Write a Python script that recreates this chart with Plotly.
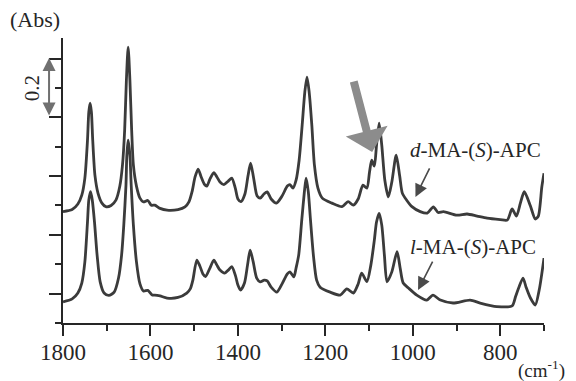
import plotly.graph_objects as go

# ---- data (wavenumber in cm-1, absorbance) ----
wn_d = [1800, 1779, 1766, 1757, 1750, 1744, 1741, 1738, 1735, 1732,
        1727, 1720, 1711, 1702, 1690, 1679, 1670, 1664, 1659, 1655,
        1651, 1647, 1643, 1639, 1632, 1624, 1616, 1606, 1598, 1590,
        1578, 1562, 1537, 1521, 1512, 1505, 1498, 1491, 1484, 1477,
        1471, 1464, 1455, 1448, 1441, 1432, 1422, 1414, 1406, 1400,
        1393, 1384, 1377, 1371, 1364, 1356, 1349, 1340, 1333, 1324,
        1312, 1299, 1287, 1281, 1274, 1267, 1260, 1253, 1247, 1242,
        1237, 1231, 1225, 1217, 1207, 1185, 1162, 1148, 1136, 1125,
        1114, 1105, 1099, 1094, 1088, 1083, 1077, 1071, 1064, 1056,
        1048, 1038, 1030, 1024, 1014, 1002, 983, 967, 953, 942,
        930, 899, 876, 853, 830, 800, 784, 773, 763, 754,
        745, 731, 720, 713, 705, 700]
abs_d = [0.379, 0.386, 0.405, 0.435, 0.493, 0.622, 0.718, 0.748, 0.718, 0.622,
         0.503, 0.442, 0.408, 0.396, 0.400, 0.418, 0.466, 0.537, 0.657, 0.827,
         0.939, 0.827, 0.657, 0.537, 0.466, 0.425, 0.412, 0.417, 0.401, 0.401,
         0.390, 0.384, 0.386, 0.395, 0.412, 0.446, 0.497, 0.524, 0.497, 0.473,
         0.466, 0.490, 0.512, 0.497, 0.480, 0.471, 0.483, 0.493, 0.459, 0.422,
         0.413, 0.439, 0.500, 0.544, 0.493, 0.432, 0.425, 0.440, 0.446, 0.422,
         0.408, 0.432, 0.466, 0.471, 0.459, 0.486, 0.554, 0.674, 0.786, 0.837,
         0.786, 0.674, 0.537, 0.459, 0.425, 0.408, 0.396, 0.413, 0.401, 0.422,
         0.469, 0.459, 0.514, 0.554, 0.534, 0.605, 0.680, 0.605, 0.486, 0.429,
         0.480, 0.571, 0.500, 0.442, 0.418, 0.396, 0.379, 0.374, 0.395, 0.376,
         0.379, 0.367, 0.371, 0.364, 0.357, 0.352, 0.350, 0.388, 0.364, 0.408,
         0.447, 0.398, 0.354, 0.364, 0.463, 0.510]

wn_l = [1800, 1779, 1766, 1757, 1750, 1744, 1741, 1737, 1733, 1728,
        1722, 1715, 1706, 1695, 1683, 1673, 1666, 1661, 1656, 1654,
        1651, 1647, 1644, 1639, 1632, 1624, 1616, 1606, 1596, 1590,
        1578, 1562, 1537, 1517, 1509, 1503, 1494, 1487, 1480, 1474,
        1464, 1455, 1448, 1441, 1430, 1422, 1414, 1406, 1400, 1394,
        1385, 1378, 1372, 1365, 1357, 1349, 1340, 1333, 1324, 1311,
        1299, 1287, 1281, 1272, 1267, 1261, 1254, 1248, 1244, 1239,
        1234, 1227, 1220, 1212, 1189, 1166, 1151, 1136, 1125, 1117,
        1105, 1096, 1088, 1083, 1077, 1071, 1065, 1059, 1048, 1036,
        1029, 1022, 1010, 991, 968, 954, 937, 908, 869, 846,
        808, 773, 765, 758, 748, 741, 731, 720, 711, 700]
abs_l = [0.072, 0.082, 0.102, 0.136, 0.208, 0.344, 0.418, 0.447, 0.418, 0.344,
         0.231, 0.140, 0.102, 0.094, 0.105, 0.153, 0.231, 0.333, 0.469, 0.571,
         0.622, 0.571, 0.469, 0.333, 0.208, 0.133, 0.109, 0.111, 0.095, 0.095,
         0.092, 0.085, 0.087, 0.102, 0.116, 0.146, 0.214, 0.194, 0.167, 0.158,
         0.187, 0.214, 0.197, 0.180, 0.170, 0.180, 0.192, 0.163, 0.129, 0.112,
         0.136, 0.197, 0.248, 0.208, 0.153, 0.140, 0.146, 0.143, 0.122, 0.105,
         0.133, 0.167, 0.174, 0.157, 0.187, 0.231, 0.350, 0.446, 0.493, 0.446,
         0.350, 0.225, 0.146, 0.122, 0.105, 0.095, 0.116, 0.102, 0.133, 0.170,
         0.141, 0.197, 0.282, 0.344, 0.373, 0.333, 0.231, 0.140, 0.174, 0.243,
         0.187, 0.136, 0.119, 0.095, 0.078, 0.095, 0.078, 0.068, 0.078, 0.068,
         0.056, 0.058, 0.090, 0.119, 0.153, 0.122, 0.085, 0.061, 0.112, 0.221]

x_ticks = [1800, 1600, 1400, 1200, 1000, 800]
label_d = "<i>d</i>-MA-(<i>S</i>)-APC"
label_l = "<i>l</i>-MA-(<i>S</i>)-APC"

SERIF = "Liberation Serif, Times New Roman, serif"
LINE = "#3b3b3b"
INK = "#262626"

fig = go.Figure()
for xs, ys in ((wn_d, abs_d), (wn_l, abs_l)):
    fig.add_trace(go.Scatter(
        x=xs, y=ys, mode="lines",
        line=dict(color=LINE, width=2.8, shape="spline", smoothing=0.7),
        showlegend=False, hoverinfo="skip"))

# the page body adds an 8px offset, so margins are shifted up/left by 8px
fig.update_layout(
    width=576, height=381,
    margin=dict(l=55, r=40, t=30, b=66),
    paper_bgcolor="white", plot_bgcolor="white",
    font=dict(family=SERIF, color=INK, size=20),
    xaxis=dict(
        range=[1800, 700], showgrid=False, zeroline=False,
        showline=True, linecolor=INK, linewidth=2,
        tickvals=x_ticks, ticktext=[str(v) for v in x_ticks],
        ticks="outside", ticklen=11, tickwidth=2, tickcolor=INK,
        ticklabelstandoff=-4,
        minor=dict(dtick=100, tick0=0, ticks="outside", ticklen=6,
                   tickwidth=2, tickcolor=INK),
        tickfont=dict(family=SERIF, size=23, color=INK),
    ),
    yaxis=dict(
        range=[0, 0.97], showgrid=False, zeroline=False,
        showline=True, linecolor=INK, linewidth=2,
        tick0=0.1, dtick=0.2, ticks="outside", ticklen=12, tickwidth=2,
        tickcolor=INK, showticklabels=False,
        minor=dict(dtick=0.1, tick0=0, ticks="outside", ticklen=6,
                   tickwidth=2, tickcolor=INK),
    ),
)

ann = []
# axis unit labels
ann.append(dict(text="(Abs)", xref="paper", yref="paper", x=-0.058, y=1.064,
                showarrow=False, xanchor="center", yanchor="middle",
                font=dict(size=22)))
ann.append(dict(text="(cm<sup>-1</sup>)", xref="paper", yref="paper", x=0.995, y=-0.163,
                showarrow=False, xanchor="center", yanchor="middle",
                font=dict(size=19)))
# scale bar 0.2
ann.append(dict(text="0.2", xref="paper", yref="paper", x=-0.063, y=0.823,
                showarrow=False, textangle=-90, xanchor="center", yanchor="middle",
                font=dict(size=21)))
ann.append(dict(text="", xref="paper", yref="paper", x=-0.029, y=0.93,
                ax=0, ay=59, axref="pixel", ayref="pixel",
                showarrow=True, arrowside="end+start", arrowhead=2,
                arrowsize=1.3, arrowwidth=2, arrowcolor="#707070"))
# curve labels
ann.append(dict(text=label_d, x=857, y=0.588, showarrow=False,
                xanchor="center", yanchor="middle", font=dict(size=21)))
ann.append(dict(text=label_l, x=862, y=0.259, showarrow=False,
                xanchor="center", yanchor="middle", font=dict(size=21)))
# small pointer arrows
ann.append(dict(text="", x=994, y=0.429, ax=960, ay=0.531, axref="x", ayref="y",
                showarrow=True, arrowhead=2, arrowsize=1.6, arrowwidth=1.6,
                arrowcolor="#4a4a4a"))
ann.append(dict(text="", x=988, y=0.112, ax=953, ay=0.214, axref="x", ayref="y",
                showarrow=True, arrowhead=2, arrowsize=1.6, arrowwidth=1.6,
                arrowcolor="#4a4a4a"))
# big grey arrow at the shoulder
ann.append(dict(text="", x=1093, y=0.582, ax=1136, ay=0.827, axref="x", ayref="y",
                showarrow=True, arrowhead=1, arrowsize=0.9, arrowwidth=8,
                arrowcolor="#8c8c8c"))
fig.update_layout(annotations=ann)

fig.write_html("out.html")
